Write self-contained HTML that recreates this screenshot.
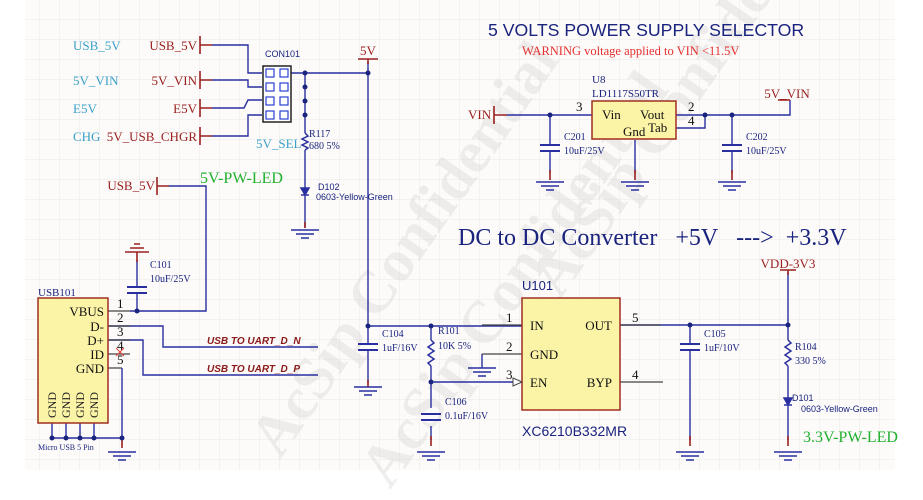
<!DOCTYPE html>
<html><head><meta charset="utf-8"><style>
html,body{margin:0;padding:0;background:#fff}
svg{display:block}
.s{font-family:"Liberation Serif",serif}
.a{font-family:"Liberation Sans",sans-serif}
</style></head><body>
<svg width="923" height="500" viewBox="0 0 923 500" xmlns="http://www.w3.org/2000/svg">
<defs>
<pattern id="g" width="20" height="20" patternUnits="userSpaceOnUse"><path d="M20 0V20H0" fill="none" stroke="#ece9e6" stroke-width="1"/></pattern>
<g id="gnd" stroke="#2a2fa0" stroke-width="1.5"><line x1="-14" y1="0" x2="14" y2="0"/><line x1="-9" y1="4" x2="9" y2="4"/><line x1="-4" y1="8" x2="4" y2="8"/></g>
<g id="cap" stroke="#2a2fa0" stroke-width="2"><line x1="-10" y1="-3" x2="10" y2="-3"/><line x1="-10" y1="3" x2="10" y2="3"/></g>
</defs>
<rect x="0" y="0" width="923" height="500" fill="#fff"/>
<rect x="25" y="0" width="870" height="470" fill="#fcfbf9"/>
<rect x="25" y="0" width="870" height="470" fill="url(#g)"/>
<!-- watermark -->
<g class="s" font-size="60" font-weight="bold" fill="#d8d6d4" opacity="0.4">
<text transform="translate(280,460) rotate(-55)">AcSip Confidential</text>
<text transform="translate(390,490) rotate(-55)">AcSip Confidential</text>
<text transform="translate(560,300) rotate(-55)">AcSip Confidential</text>
</g>
<!-- title -->
<text x="488" y="36" class="a" font-size="17.7" fill="#1a237e">5 VOLTS POWER SUPPLY SELECTOR</text>
<text x="522" y="55" class="s" font-size="12.5" fill="#e53030">WARNING voltage applied to VIN &lt;11.5V</text>
<text x="458" y="245" class="s" font-size="24" fill="#1a237e">DC to DC Converter&#160;&#160; +5V&#160;&#160; ---&gt;&#160; +3.3V</text>

<g fill="none" stroke-width="1.4">
<g stroke="#2a2fa0">
<path d="M212 45H248V73H262"/>
<path d="M212 80H248V87H262"/>
<path d="M212 108H244L248 100H262"/>
<path d="M212 136H248V115H262"/>
<path d="M291 73H368"/>
<path d="M305 73V133"/>
<path d="M368 62V326"/>
<path d="M169 186H206V311H130"/>
<path d="M108 326H163V347H318"/>
<path d="M108 340H143V375H318"/>
<path d="M368 326H522"/>
<path d="M431 326V340M431 366V382H513M431 382V408M431 426V440"/>
<path d="M368 326V344M368 351V383"/>
<path d="M137 260V287M137 294V311"/>
<path d="M122 368V438M52 423V438H122M66 423V438M80 423V438M94 423V438"/>
<path d="M482 354V368"/>
<path d="M620 325H788M690 325V344M690 351V440M788 272V340M788 366V440"/>
<path d="M305 150V228"/>
<path d="M507 115H592M550 115V145M550 152V173M635 140V173M676 115H790V100M676 128H705V115M732 115V145M732 152V173"/>
</g>
<g stroke="#9a2020" stroke-width="1.6">
<path d="M200 36V54M200 45H212M200 71V89M200 80H212M200 99V117M200 108H212M200 127V145M200 136H212M157 177V195M157 186H169"/>
<path d="M358 59H378M368 59V64M494 106V124M494 115H507M780 270H796M788 270V275M778 100H790"/>
<path d="M305 222V228M368 380V387M137 252V262M122 436V448M431 436V446M690 436V446M788 436V446M550 170V180M635 170V180M732 170V180"/>
</g>
<g stroke="#444" stroke-width="1.3">
<path d="M108 311H130M108 326H130M108 340H130M108 354H130M108 368H122"/>
<path d="M482 354H522M482 325H522M620 325H660M620 382H663"/>
</g>
</g>
<g fill="#1a237e">
<circle cx="305" cy="73" r="2.5"/><circle cx="305" cy="87" r="2.5"/><circle cx="305" cy="101" r="2.5"/><circle cx="305" cy="115" r="2.5"/>
<circle cx="368" cy="73" r="2.5"/><circle cx="137" cy="311" r="2.5"/><circle cx="368" cy="326" r="2.5"/><circle cx="431" cy="326" r="2.5"/><circle cx="431" cy="382" r="2.5"/>
<circle cx="690" cy="325" r="2.5"/><circle cx="788" cy="325" r="2.5"/><circle cx="550" cy="115" r="2.5"/><circle cx="705" cy="115" r="2.5"/><circle cx="732" cy="115" r="2.5"/><circle cx="122" cy="438" r="2.5"/>
<circle cx="52" cy="438" r="2.5"/><circle cx="66" cy="438" r="2.5"/><circle cx="80" cy="438" r="2.5"/><circle cx="94" cy="438" r="2.5"/>
</g>
<use href="#gnd" x="305" y="230"/><use href="#gnd" x="368" y="387"/><use href="#gnd" x="122" y="452"/><use href="#gnd" x="431" y="452"/>
<use href="#gnd" x="690" y="452"/><use href="#gnd" x="788" y="452"/><use href="#gnd" x="482" y="368"/>
<use href="#gnd" x="550" y="182"/><use href="#gnd" x="635" y="182"/><use href="#gnd" x="732" y="182"/>
<g stroke="#9a2020" stroke-width="1.5"><line x1="125" y1="252" x2="149" y2="252"/><line x1="130" y1="248" x2="144" y2="248"/><line x1="134" y1="244" x2="140" y2="244"/></g>
<use href="#cap" x="137" y="290"/><use href="#cap" x="368" y="347"/><use href="#cap" x="431" y="417"/><use href="#cap" x="690" y="347"/><use href="#cap" x="550" y="148"/><use href="#cap" x="732" y="148"/>
<g fill="none" stroke="#2a2fa0" stroke-width="1.5">
<path d="M305 133l3 3-6 3 6 3-6 3 6 3-3 2"/>
<path d="M431 340l3 3-6 4 6 4-6 4 6 4-6 4 3 3"/>
<path d="M788 340l3 3-6 4 6 4-6 4 6 4-6 4 3 3"/>
<path d="M301 188h8l-4 7z" fill="#2a2fa0"/><path d="M301 195h8"/>
<path d="M784 398h8l-4 7z" fill="#2a2fa0"/><path d="M784 405h8"/>
</g>
<rect x="263" y="66" width="28" height="56" fill="#fff" stroke="#222" stroke-width="1.5"/>
<g fill="none" stroke="#2a40d0" stroke-width="1.2">
<rect x="266" y="69" width="8" height="8"/><rect x="280" y="69" width="8" height="8"/>
<rect x="266" y="83" width="8" height="8"/><rect x="280" y="83" width="8" height="8"/>
<rect x="266" y="97" width="8" height="8"/><rect x="280" y="97" width="8" height="8"/>
<rect x="266" y="111" width="8" height="8"/><rect x="280" y="111" width="8" height="8"/>
</g>
<rect x="38" y="298" width="70" height="125" fill="#fbf3a6" stroke="#a03020" stroke-width="1.5"/>
<rect x="522" y="298" width="98" height="112" fill="#fbf3a6" stroke="#a03020" stroke-width="1.5"/>
<rect x="592" y="101" width="84" height="38" fill="#fbf3a6" stroke="#a03020" stroke-width="1.5"/>
<path d="M513 378l9 4-9 4z" fill="#fff" stroke="#444"/>
<g class="s" font-size="13">
<g fill="#3aa0c8"><text x="73" y="50">USB_5V</text><text x="73" y="85">5V_VIN</text><text x="73" y="113">E5V</text><text x="73" y="141">CHG</text><text x="256" y="148">5V_SEL</text></g>
<g fill="#9a2020" text-anchor="end"><text x="197" y="50">USB_5V</text><text x="197" y="85">5V_VIN</text><text x="197" y="113">E5V</text><text x="197" y="141">5V_USB_CHGR</text><text x="155" y="190">USB_5V</text></g>
<g fill="#9a2020" text-anchor="middle"><text x="368" y="55">5V</text><text x="788" y="268">VDD-3V3</text><text x="787" y="98">5V_VIN</text></g>
<text x="468" y="119" fill="#9a2020">VIN</text>
<g fill="#111"><text x="104" y="316" text-anchor="end">VBUS</text>
<text x="104" y="331" text-anchor="end">D-</text><text x="104" y="345" text-anchor="end">D+</text><text x="104" y="359" text-anchor="end">ID</text><text x="104" y="373" text-anchor="end">GND</text>
<text x="117" y="308">1</text><text x="117" y="322">2</text><text x="117" y="336">3</text><text x="117" y="350">4</text><text x="117" y="364">5</text>
<text x="530" y="330">IN</text><text x="530" y="359">GND</text><text x="530" y="387">EN</text><text x="612" y="330" text-anchor="end">OUT</text><text x="612" y="387" text-anchor="end">BYP</text>
<text x="506" y="322">1</text><text x="506" y="351">2</text><text x="506" y="379">3</text><text x="632" y="322">5</text><text x="632" y="379">4</text>
<text x="602" y="119">Vin</text><text x="640" y="119">Vout</text><text x="623" y="136">Gnd</text><text x="648" y="132">Tab</text>
<text x="576" y="111">3</text><text x="688" y="111">2</text><text x="688" y="125">4</text></g>
</g>
<g class="s" font-size="11" fill="#1a237e">
<text x="592" y="83">U8</text><text x="592" y="97">LD1117S50TR</text>
<text x="150" y="268" font-size="10">C101</text><text x="150" y="282" font-size="10">10uF/25V</text>
<text x="382" y="337" font-size="10">C104</text><text x="382" y="351" font-size="10">1uF/16V</text>
<text x="438" y="334" font-size="10">R101</text><text x="438" y="349" font-size="10">10K 5%</text>
<text x="445" y="405" font-size="10">C106</text><text x="445" y="419" font-size="10">0.1uF/16V</text>
<text x="704" y="337" font-size="10">C105</text><text x="704" y="351" font-size="10">1uF/10V</text>
<text x="795" y="350" font-size="10">R104</text><text x="795" y="364" font-size="10">330 5%</text>
<text x="309" y="137" font-size="10">R117</text><text x="309" y="149" font-size="10">680 5%</text>
<text x="564" y="140" font-size="10">C201</text><text x="564" y="154" font-size="10">10uF/25V</text>
<text x="746" y="140" font-size="10">C202</text><text x="746" y="154" font-size="10">10uF/25V</text>
<text x="38" y="296" font-size="11">USB101</text>
<text x="38" y="450" font-size="8">Micro USB 5 Pin</text>
</g>
<g class="a" font-size="9" fill="#1a237e">
<text x="265" y="57">CON101</text>
<text x="318" y="190">D102</text><text x="316" y="200">0603-Yellow-Green</text>
<text x="792" y="401">D101</text><text x="801" y="412">0603-Yellow-Green</text>
</g>
<text x="522" y="290" class="a" font-size="13" fill="#1a237e">U101</text>
<text x="522" y="436" class="a" font-size="14" fill="#1a237e">XC6210B332MR</text>
<g class="s" font-size="12" fill="#222">
<text transform="translate(56,418) rotate(-90)">GND</text><text transform="translate(70,418) rotate(-90)">GND</text><text transform="translate(84,418) rotate(-90)">GND</text><text transform="translate(98,418) rotate(-90)">GND</text>
</g>
<g class="a" font-size="10" font-weight="bold" font-style="italic" fill="#8b1a1a">
<text x="207" y="344">USB TO UART_D_N</text><text x="207" y="372">USB TO UART_D_P</text>
</g>
<text x="200" y="183" class="s" font-size="16" fill="#22b030">5V-PW-LED</text>
<text x="803" y="442" class="s" font-size="16" fill="#22b030">3.3V-PW-LED</text>
<path d="M116 348l8 8M124 348l-8 8" stroke="#e04040" stroke-width="1"/>
</svg>
</body></html>
